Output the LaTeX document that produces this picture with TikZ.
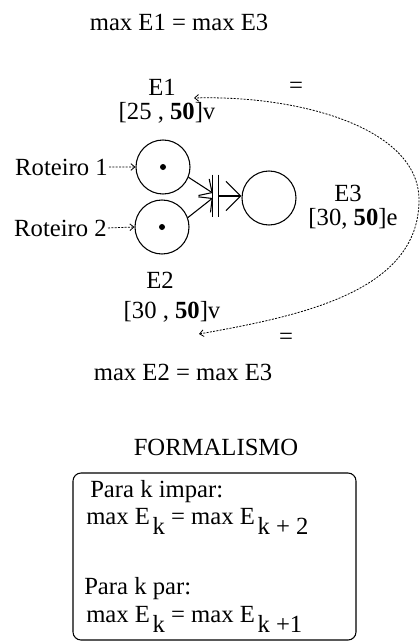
\documentclass[tikz,border=0pt]{standalone}
\usepackage{fontspec}
\setmainfont{Liberation Serif}
\usetikzlibrary{arrows.meta,calc}
\begin{document}
\begin{tikzpicture}[x=0.75pt,y=-0.75pt,
  txt/.style={font=\fontsize{18.5}{22}\selectfont, inner sep=0pt},
  place/.style={circle,draw,line width=0.8pt,minimum size=40.5pt,inner sep=0pt},
  token/.style={circle,fill,inner sep=0pt,minimum size=4.5pt},
  arcin/.style={line width=0.8pt,-{Straight Barb[length=7.4pt,width=14.8pt]}},
  arcout/.style={line width=0.8pt,-{Straight Barb[length=11pt,width=22pt]}},
  feed/.style={line width=0.6pt,dash pattern=on 1.5pt off 1pt,-{Straight Barb[length=3pt,width=5pt]}},
  eqlink/.style={line width=0.6pt,dash pattern=on 1.5pt off 1pt,{Straight Barb[length=3pt,width=5pt]}-{Straight Barb[length=3pt,width=5pt]}}
]
\useasboundingbox (0,0) rectangle (420,642);

% top equation
\node[txt,anchor=base] (eqtop) at (179,31) {max E1 = max E3};

% labels E1
\node[txt,anchor=base] (e1) at (162,95) {E1};
\node[txt,anchor=base] (e1v) at (167,119) {[25 , \textbf{50}]v};
\node[txt] (eq1) at (296,88) {=};

% places
\node[place] (c1) at (163,167) {};
\node[token] (k1) at (c1) {};
\node[place] (c2) at (162,227) {};
\node[token] (k2) at (c2) {};
\node[place] (c3) at (269,198) {};

% roteiros
\node[txt,anchor=base east] (r1) at (108,175) {Roteiro 1};
\node[txt,anchor=base east] (r2) at (107,236) {Roteiro 2};
\draw[feed] (r1.east) ++(1,0) -- (c1.west);
\draw[feed] (r2.east) ++(1,0) -- (c2.west);

% transition
\node[inner sep=0pt,minimum width=3.75pt,minimum height=31.5pt] (t) at (215.5,196) {};
\draw[line width=0.8pt] (t.north west) -- (t.south west);
\draw[line width=0.8pt] (t.north east) -- (t.south east);
\draw[arcin] (c1.-22) -- ($(t.west)+(0,-3)$);
\draw[arcin] (c2.20) -- ($(t.west)+(0,2)$);
\draw[arcout] (t.east) -- (t.east -| c3.west);

% E3 labels
\node[txt,anchor=base] (e3) at (348,201) {E3};
\node[txt,anchor=base] (e3v) at (353,225) {[30, \textbf{50}]e};

% E2 labels
\node[txt,anchor=base] (e2) at (160,288) {E2};
\node[txt,anchor=base] (e2v) at (172,318) {[30 , \textbf{50}]v};
\node[txt] (eq2) at (286,339) {=};

% equality link
\coordinate (pa) at (194,98);
\coordinate (pb) at (199,334);
\coordinate (pr) at (419,200);
\draw[eqlink] (pb) .. controls (300,316) and (419,292) .. (pr) .. controls (419,128) and (300,95) .. (pa);

\node[txt,anchor=base] (eqbot) at (183,380) {max E2 = max E3};

% formalismo
\node[txt,anchor=base] (form) at (216,455) {FORMALISMO};
\node[draw,rounded corners=6pt,line width=0.8pt,minimum width=212.25pt,minimum height=125.25pt] (box) at (214.5,556.5) {};
\node[txt,anchor=base west] (pi) at (90,497) {Para k impar:};
\node[txt,anchor=base west] (mi) at (86,524) {max E\hspace{2pt}\raisebox{-8pt}{k} = max E\hspace{2pt}\raisebox{-8pt}{k + 2}};
\node[txt,anchor=base west] (pp) at (84,594) {Para k par:};
\node[txt,anchor=base west] (mp) at (86,622) {max E\hspace{2pt}\raisebox{-8pt}{k} = max E\hspace{2pt}\raisebox{-8pt}{k +1}};
\end{tikzpicture}
\end{document}
